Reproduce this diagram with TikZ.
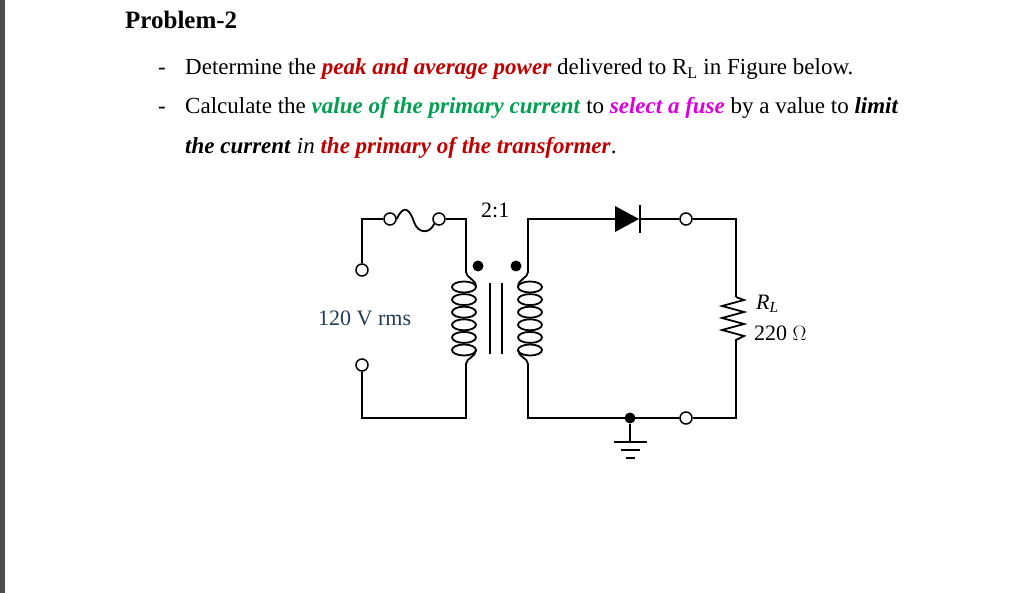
\documentclass[tikz,border=0pt]{standalone}
\usepackage{fontspec}
\setmainfont{Liberation Serif}
\definecolor{dred}{RGB}{192,0,0}
\definecolor{dgreen}{RGB}{0,160,80}
\definecolor{mag}{RGB}{220,0,220}
\definecolor{vblue}{RGB}{30,60,90}
\begin{document}
\begin{tikzpicture}[x=1pt,y=-1pt,
  txt/.style={anchor=base west,inner sep=0,font=\fontsize{23}{26}\selectfont},
  ctxt/.style={anchor=base west,inner sep=0,font=\fontsize{22}{26}\selectfont},
  w/.style={line width=1.8pt},
  term/.style={circle,draw,line width=1.5pt,fill=white,minimum size=12pt,inner sep=0},
  jdot/.style={circle,fill=black,minimum size=11pt,inner sep=0}]
\useasboundingbox (0,0) rectangle (1019,593);
\fill[black!70] (0,0) rectangle (5,593);
\node[txt,font=\fontsize{25}{28}\selectfont\bfseries] (t0) at (125,29) {Problem-2};
\node[txt] (b1) at (158,75) {-};
\node[txt] (b2) at (158,114) {-};
\node[txt] (l1) at (185,75) {Determine the \textcolor{dred}{\textbf{\textit{peak and average power}}} delivered to R\textsubscript{L} in Figure below.};
\node[txt] (l2) at (185,114) {Calculate the \textcolor{dgreen}{\textbf{\textit{value of the primary current}}} to \textcolor{mag}{\textbf{\textit{select a fuse}}} by a value to \textbf{\textit{limit}}};
\node[txt] (l3) at (185,154) {\textbf{\textit{the current}} \textit{in} \textcolor{dred}{\textbf{\textit{the primary of the transformer}}}.};
% coordinates
\coordinate (pa) at (362,219);
\coordinate (pb) at (466,219);
\coordinate (pc) at (466,418);
\coordinate (pd) at (362,418);
\coordinate (sa) at (528,219);
\coordinate (sb) at (736,219);
\coordinate (sc) at (736,418);
\coordinate (sd) at (528,418);
% primary
\node[term] (f1) at (390,219) {};
\node[term] (f2) at (439,219) {};
\node[term] (tp1) at (362,270) {};
\node[term] (tp2) at (362,365) {};
\draw[w] (tp1) -- (pa) -- (f1);
\draw[w] (f1.east) .. controls (404,203) and (410,210) .. (414,222) .. controls (418,234) and (430,234) .. (f2.south west);
\draw[w] (f2) -- (pb) -- (466,272) .. controls (466,278) and (476,279) .. (476,287);
\draw[w] (476,350) .. controls (476,357) and (466,358) .. (466,364) -- (pc) -- (pd) -- (tp2);
\foreach \i in {0,...,5}{
  \draw[w] (464,{287+12.6*\i}) ellipse (12pt and 5.5pt);
  \draw[w] (530,{287+12.6*\i}) ellipse (12pt and 5.5pt);
}
\draw[line width=2.4pt] (490,283) -- (490,354) (502,283) -- (502,354);
\node[jdot] (d1) at (478,266) {};
\node[jdot] (d2) at (516,266) {};
\node[ctxt] (ratio) at (481,218) {2:1};
\node[ctxt,text=vblue] (src) at (318,325) {120 V rms};
% secondary
\draw[w] (518,287) .. controls (518,279) and (528,278) .. (528,272) -- (sa) -- (615,219);
\node[term] (to1) at (686,219) {};
\node[term] (to2) at (686,418) {};
\fill (615,206) -- (615,232) -- (639,219) -- cycle;
\draw[w] (640,205) -- (640,233);
\draw[w] (640,219) -- (to1) -- (sb) -- (736,297);
\draw[w] (736,297) -- (744,300) -- (722,306) -- (744,312) -- (722,318) -- (744,324) -- (722,330) -- (744,336) -- (736,340) -- (sc) -- (to2);
\draw[w] (to2) -- (sd) -- (528,364) .. controls (528,358) and (518,357) .. (518,350);
\node[jdot] (g) at (630,418) {};
\draw[w] (g) -- (630,442);
\draw[w] (614,442) -- (647,442) (621,450) -- (640,450) (626,458) -- (635,458);
\node[ctxt,font=\fontsize{22}{26}\selectfont\itshape] (rl) at (756,309) {R\textsubscript{L}};
\node[ctxt] (rv) at (754,341) {220 $\Omega$};
\end{tikzpicture}
\end{document}
